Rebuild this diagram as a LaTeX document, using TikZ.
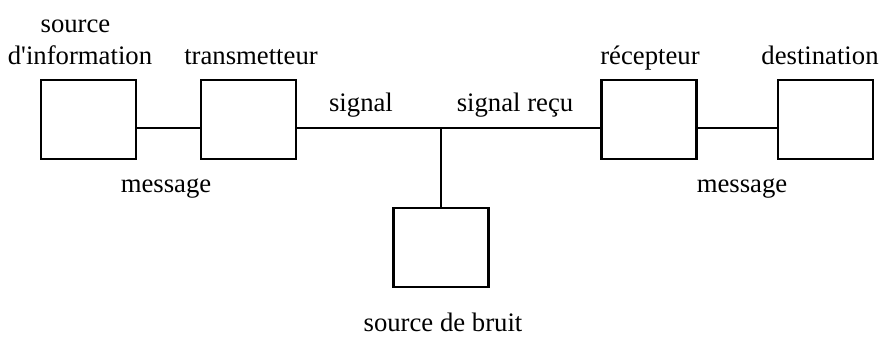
\documentclass[tikz,border=0pt]{standalone}
\usepackage{fontspec}
\setmainfont{Liberation Serif}
\usetikzlibrary{positioning}

\begin{document}
\begin{tikzpicture}[
    x=0.02cm, y=-0.02cm,
    block/.style={rectangle, draw=black, line width=1.2pt, minimum width=1.9cm, minimum height=1.58cm, inner sep=0pt},
    wire/.style={draw=black, line width=1.1pt},
    txt/.style={anchor=base, inner sep=0pt, font=\fontsize{15.2}{18.2}\selectfont}
]
    \useasboundingbox (0,0) rectangle (880,338);

    % blocks
    \node[block] (src) at (88.5, 119.5) {};
    \node[block] (tx) at (248.5, 119.5) {};
    \node[block] (noise) at (441, 247.5) {};
    \node[block] (rx) at (649, 119.5) {};
    \node[block] (dst) at (825.5, 119.5) {};

    \coordinate (junc) at (441, 128);

    % channel
    \draw[wire] (src.east |- junc) -- (tx.west |- junc);
    \draw[wire] (tx.east |- junc) -- (rx.west |- junc);
    \draw[wire] (rx.east |- junc) -- (dst.west |- junc);
    \draw[wire] (junc) -- (noise.north);

    % labels
    \node[txt] (l-src1) at (75.5, 32) {source};
    \node[txt] (l-src2) at (80, 64) {d\textquotesingle information};
    \node[txt] (l-tx) at (251, 64) {transmetteur};
    \node[txt] (l-rx) at (650, 64) {récepteur};
    \node[txt] (l-dst) at (820, 64) {destination};
    \node[txt] (l-sig) at (361, 112) {signal};
    \node[txt] (l-sigr) at (515, 112) {signal reçu};
    \node[txt] (l-msg1) at (166, 192) {message};
    \node[txt] (l-msg2) at (742, 192) {message};
    \node[txt] (l-noise) at (443, 331) {source de bruit};

\end{tikzpicture}
\end{document}
